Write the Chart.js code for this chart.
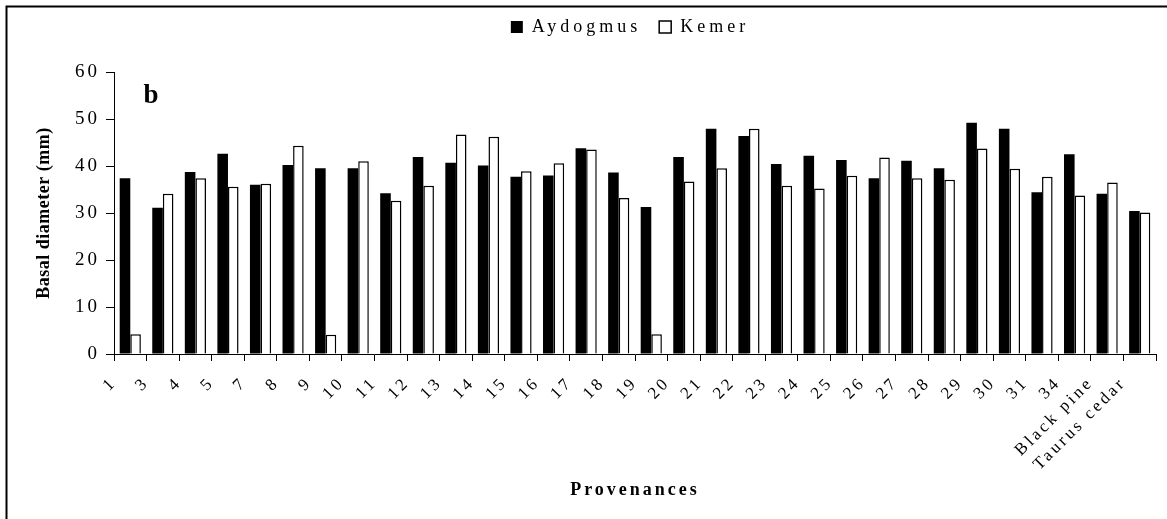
<!DOCTYPE html>
<html>
<head>
<meta charset="utf-8">
<script src="https://cdn.jsdelivr.net/npm/chart.js@4.4.1/dist/chart.umd.min.js"></script>
<style>
  html, body { margin: 0; padding: 0; background: #fff; }
  #wrap { position: relative; width: 1167px; height: 519px; }
</style>
</head>
<body>
<div id="wrap"><canvas id="c" width="1167" height="519"></canvas></div>
<script>
const categories = ['1','3','4','5','7','8','9','10','11','12','13','14','15','16','17','18','19','20','21','22','23','24','25','26','27','28','29','30','31','34','Black pine','Taurus cedar'];
const aydogmus = [37.4,31.1,38.7,42.6,36.0,40.2,39.5,39.5,34.2,41.9,40.7,40.1,37.7,38.0,43.8,38.6,31.3,41.9,47.9,46.4,40.4,42.2,41.3,37.4,41.1,39.5,49.2,47.9,34.4,42.5,34.1,30.4];
const kemer    = [4.2,34.1,37.4,35.6,36.2,44.3,4.1,41.0,32.6,35.8,46.7,46.2,38.9,40.6,43.5,33.2,4.2,36.7,39.5,47.9,35.8,35.2,37.9,41.8,37.4,37.1,43.7,39.4,37.7,33.7,36.5,30.1];
const yTicks = [0,10,20,30,40,50,60];
const panelLetter = 'b';

const SERIF = "'Liberation Serif', 'Times New Roman', serif";
const SPACING = '3px';

function withSpacing(fn, sp) {
  return function () {
    const c = this.ctx; const s = c.letterSpacing; c.letterSpacing = sp;
    const r = fn.apply(this, arguments); c.letterSpacing = s; return r;
  };
}

const deco = {
  id: 'deco',
  beforeLayout(chart) {
    chart.ctx.letterSpacing = SPACING;
    const lg = chart.legend;
    if (lg && !lg._patched) {
      const fit = withSpacing(lg.fit, '4px');
      lg.fit = function () { fit.call(this); this.height = 72; };
      const draw = withSpacing(lg.draw, '4px');
      lg.draw = function () {
        const c = this.ctx; c.save(); c.translate(52, 0); draw.call(this); c.restore();
      };
      lg._patched = true;
    }
  },
  beforeDraw(chart) {
    const ctx = chart.ctx;
    ctx.letterSpacing = SPACING;
    const y = chart.scales.y;
    if (y && !y._patched) {
      y.drawTitle = withSpacing(y.drawTitle, '0.5px');
      y._patched = true;
    }
    ctx.save();
    ctx.strokeStyle = '#000';
    ctx.lineWidth = 2;
    ctx.strokeRect(6.5, 6.5, 1300, 700);
    ctx.restore();
  },
  afterDraw(chart) {
    const ctx = chart.ctx;
    ctx.save();
    ctx.letterSpacing = '0px';
    ctx.font = "bold 27px " + SERIF;
    ctx.fillStyle = '#000';
    ctx.textAlign = 'center';
    ctx.textBaseline = 'middle';
    ctx.fillText(panelLetter, 151, 96);
    ctx.restore();
  }
};

new Chart(document.getElementById('c'), {
  type: 'bar',
  data: {
    labels: categories,
    datasets: [
      { label: 'Aydogmus', data: aydogmus, backgroundColor: '#000', borderColor: '#000', borderWidth: 0,
        categoryPercentage: 0.65, barPercentage: 1.0 },
      { label: 'Kemer', data: kemer, backgroundColor: '#fff', borderColor: '#000', borderWidth: 1.5,
        categoryPercentage: 0.65, barPercentage: 1.0 }
    ]
  },
  options: {
    responsive: false,
    animation: false,
    devicePixelRatio: 1,
    layout: { padding: { left: 0, right: 11, top: 0, bottom: 0 } },
    plugins: {
      legend: {
        display: true,
        position: 'top',
        labels: {
          color: '#000',
          font: { family: SERIF, size: 18 },
          boxWidth: 12, boxHeight: 12,
          padding: 18,
          useBorderRadius: false
        }
      },
      tooltip: { enabled: false }
    },
    scales: {
      x: {
        type: 'category',
        offset: true,
        grid: { display: true, drawOnChartArea: false, drawTicks: true, tickLength: 7, color: '#000', offset: true },
        border: { display: true, color: '#000', width: 1 },
        ticks: {
          color: '#000', font: { family: SERIF, size: 17 },
          autoSkip: false, maxRotation: 45, minRotation: 45,
          labelOffset: -16.28, padding: 12
        },
        title: { display: true, text: 'Provenances', color: '#000',
          font: { family: SERIF, size: 18, weight: 'bold' }, padding: { top: 0, bottom: 18 } },
        afterFit(scale) { scale.height = 165; }
      },
      y: {
        min: 0, max: 60,
        afterBuildTicks(scale) { scale.ticks = yTicks.map(v => ({ value: v })); },
        grid: { display: true, drawOnChartArea: false, drawTicks: true, tickLength: 8, color: '#000' },
        border: { display: true, color: '#000', width: 1 },
        ticks: { color: '#000', font: { family: SERIF, size: 19 }, padding: 6 },
        title: { display: true, text: 'Basal diameter (mm)', color: '#000',
          font: { family: SERIF, size: 18, weight: 'bold' }, padding: { top: 34, bottom: 0 } },
        afterFit(scale) { scale.width = 114; }
      }
    }
  },
  plugins: [deco]
});
</script>
</body>
</html>
